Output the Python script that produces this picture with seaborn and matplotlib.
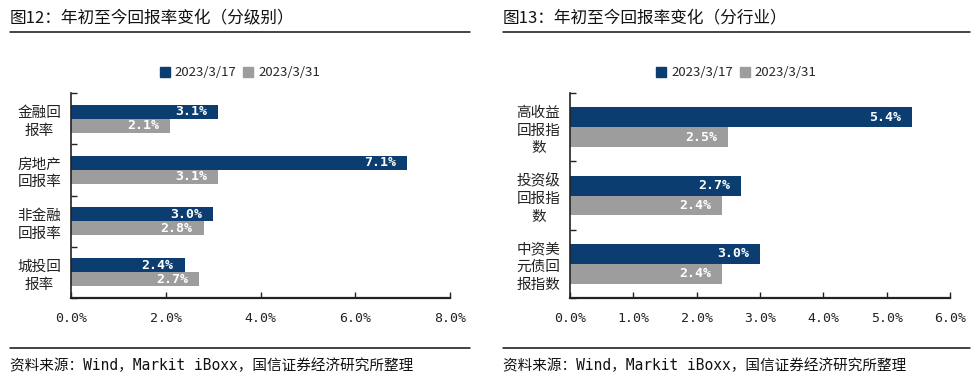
import numpy as np
import pandas as pd
import matplotlib
matplotlib.use('Agg')
import matplotlib.pyplot as plt
from matplotlib.lines import Line2D
from matplotlib.patches import Patch
import seaborn as sns

# data
dates = ['2023/3/17', '2023/3/31']
grade_cats = ['金融回\n报率', '房地产\n回报率', '非金融\n回报率', '城投回\n报率']
grade_0317 = [3.1, 7.1, 3.0, 2.4]
grade_0331 = [2.1, 3.1, 2.8, 2.7]
ind_cats = ['高收益\n回报指\n数', '投资级\n回报指\n数', '中资美\n元债回\n报指数']
ind_0317 = [5.4, 2.7, 3.0]
ind_0331 = [2.5, 2.4, 2.4]

titles = ['图12：年初至今回报率变化（分级别）', '图13：年初至今回报率变化（分行业）']
source = '资料来源：Wind，Markit iBoxx，国信证券经济研究所整理'

blue = '#0b3d70'
gray = '#9d9d9d'
mono = ['DejaVu Sans Mono', 'Noto Sans CJK SC']

sns.set_theme(style='white')
plt.rcParams['font.family'] = ['Noto Sans CJK SC', 'DejaVu Sans']


def make_df(cats, a, b):
    return pd.DataFrame({
        'cat': cats * 2,
        'date': [dates[0]] * len(cats) + [dates[1]] * len(cats),
        'val': list(a) + list(b),
    })


def draw_panel(fig, rect, df, xmax, xstep, width, panel_x0, panel_x1, title):
    ax = fig.add_axes(rect)
    sns.barplot(data=df, y='cat', x='val', hue='date', orient='h',
                palette=[blue, gray], width=width, ax=ax, legend=False,
                saturation=1, linewidth=0)
    n = df['cat'].nunique()
    ax.set_xlim(0, xmax)
    ax.set_ylim(n - 0.5, -0.5)
    ax.set_xticks(np.arange(0, xmax + 1e-9, xstep))
    ax.set_xticklabels([f'{t:.1f}%' for t in ax.get_xticks()],
                       fontsize=9.5, color='#222222', family=mono)
    ax.set_yticks(range(n))
    ax.set_yticks(np.arange(-0.5, n, 1), minor=True)
    ax.tick_params(axis='y', which='major', length=0, pad=7, labelsize=10.5)
    ax.tick_params(axis='y', which='minor', direction='in', length=4,
                   width=1, color='#222222', left=True)
    ax.tick_params(axis='x', which='major', direction='in', length=4,
                   width=1, color='#222222', bottom=True, pad=10)
    for lbl in ax.get_yticklabels():
        lbl.set_multialignment('center')
        lbl.set_linespacing(1.35)
        lbl.set_color('#222222')
    ax.set_xlabel('')
    ax.set_ylabel('')
    for s in ['top', 'right']:
        ax.spines[s].set_visible(False)
    ax.spines['left'].set_color('#222222')
    ax.spines['left'].set_linewidth(1.2)
    ax.spines['bottom'].set_color('#222222')
    ax.spines['bottom'].set_linewidth(1.6)

    for cont in ax.containers:
        texts = ax.bar_label(cont, labels=[f'{v:.1f}%' for v in cont.datavalues],
                             padding=-8, color='white', fontsize=9.5,
                             family=mono, fontweight='bold')
        for t in texts:
            t.set_ha('right')

    # legend centred over the panel
    handles = [Patch(color=blue), Patch(color=gray)]
    fig.legend(handles, dates, loc='center',
               bbox_to_anchor=((panel_x0 + panel_x1) / 2 / 980, 1 - 73 / 383),
               ncol=2, frameon=False, fontsize=9.5, handlelength=0.75,
               handleheight=0.75, handletextpad=0.4, columnspacing=0.5)

    # title, rules and source
    fig.text(panel_x0 / 980, 1 - 18 / 383, title, fontsize=12,
             va='center', ha='left', color='#111111')
    for y in [32, 348]:
        fig.add_artist(Line2D([panel_x0 / 980, panel_x1 / 980],
                              [1 - y / 383, 1 - y / 383],
                              color='#111111', lw=1.1))
    fig.text(panel_x0 / 980, 1 - 366 / 383, source, fontsize=10.5,
             va='center', ha='left', color='#111111', family=mono)
    return ax


fig = plt.figure(figsize=(9.8, 3.83), dpi=100)
fig.patch.set_facecolor('white')

draw_panel(fig, [71 / 980, 1 - 298 / 383, 379 / 980, 205 / 383],
           make_df(grade_cats, grade_0317, grade_0331),
           8, 2, 0.55, 10, 470, titles[0])
draw_panel(fig, [570 / 980, 1 - 298 / 383, 380 / 980, 205 / 383],
           make_df(ind_cats, ind_0317, ind_0331),
           6, 1, 0.58, 503, 970, titles[1])

fig.savefig('out.png', dpi=100)
